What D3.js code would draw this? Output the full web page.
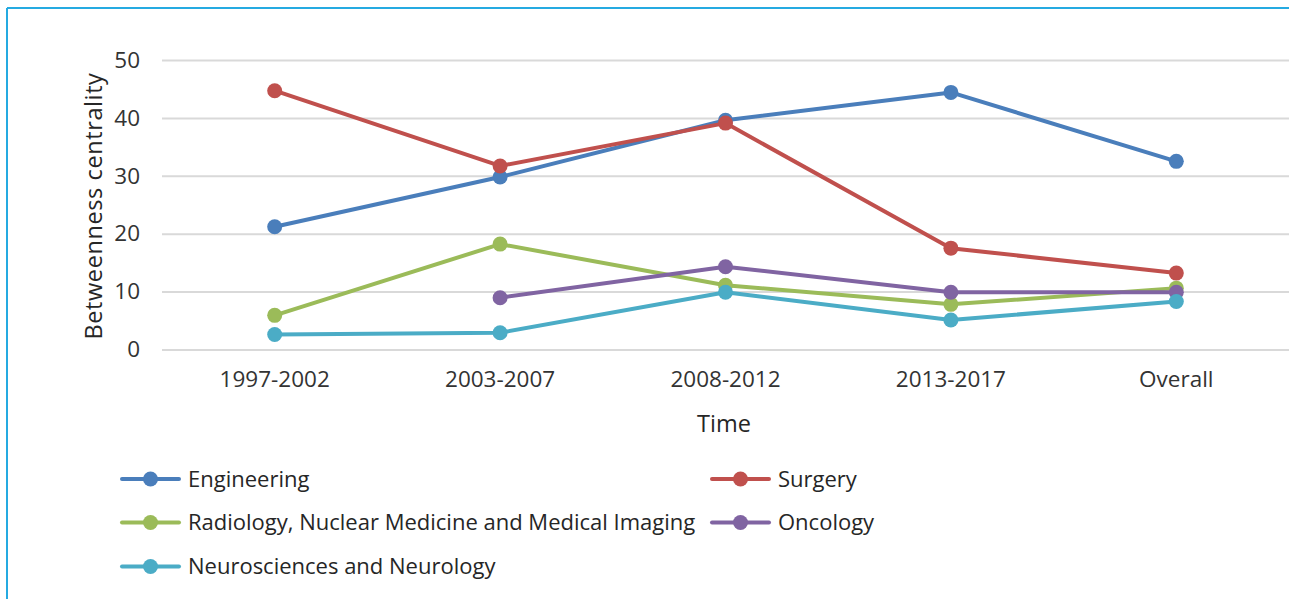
<!DOCTYPE html>
<html>
<head>
<meta charset="utf-8">
<script src="https://cdn.jsdelivr.net/npm/d3@7"></script>
<style>
  body { margin: 0; background: #fff; }
  .chart text { font-family: 'Open Sans', sans-serif; fill: #333; }
  .grid line { stroke: #d9d9d9; stroke-width: 2; }
  .grid path { display: none; }
  .axis path, .axis line { display: none; }
  .line { fill: none; stroke-width: 4; stroke-linejoin: round; stroke-linecap: round; }
</style>
</head>
<body>
<div id="chart"></div>
<script>
// categories and series
const periods = ['1997-2002', '2003-2007', '2008-2012', '2013-2017', 'Overall'];
const engineering = [21.2, 29.8, 39.6, 44.4, 32.5];
const surgery = [44.7, 31.7, 39.1, 17.5, 13.2];
const radiology = [5.9, 18.2, 11.1, 7.8, 10.6];
const oncology = [null, 8.95, 14.3, 9.9, 9.9];
const neuro = [2.6, 2.9, 9.9, 5.1, 8.3];
const yTicks = [0, 10, 20, 30, 40, 50];

const seriesNames = [
  'Engineering', 'Surgery', 'Radiology, Nuclear Medicine and Medical Imaging',
  'Oncology', 'Neurosciences and Neurology'
];
const seriesValues = [engineering, surgery, radiology, oncology, neuro];
const colors = ['#4a7ebb', '#c0504d', '#9bbb59', '#8064a2', '#4bacc6'];

const series = seriesNames.map((name, i) => ({
  name,
  color: colors[i],
  values: periods.map((p, j) => ({ period: p, value: seriesValues[i][j] }))
}));

function drawChart() {
  const width = 1289, height = 599;

  const svg = d3.select('#chart')
    .append('svg')
    .attr('class', 'chart')
    .attr('width', width)
    .attr('height', height);

  // frame edges (top and left visible in the picture)
  svg.append('line').attr('x1', 7).attr('x2', width).attr('y1', 8).attr('y2', 8)
    .attr('stroke', '#25aae1').attr('stroke-width', 2);
  svg.append('line').attr('x1', 7).attr('x2', 7).attr('y1', 8).attr('y2', height)
    .attr('stroke', '#25aae1').attr('stroke-width', 2);

  const plot = { left: 162, right: 1289, top: 60, bottom: 349.5 };

  const xScale = d3.scaleBand().domain(periods).range([plot.left, plot.right]);
  const xc = (p) => xScale(p) + xScale.bandwidth() / 2;
  const yScale = d3.scaleLinear().domain([0, 50]).range([plot.bottom, plot.top]);

  // horizontal gridlines
  svg.append('g')
    .attr('class', 'grid')
    .attr('transform', `translate(${plot.left},0)`)
    .call(d3.axisLeft(yScale).tickValues(yTicks).tickSize(-(plot.right - plot.left)).tickFormat(''));

  // y axis labels
  svg.append('g')
    .attr('class', 'axis')
    .attr('transform', `translate(${plot.left},0)`)
    .call(d3.axisLeft(yScale).tickValues(yTicks).tickSize(0).tickPadding(22))
    .selectAll('text')
    .style('font-size', '22.5px');

  // x axis labels
  svg.append('g')
    .attr('class', 'axis')
    .attr('transform', `translate(0,${plot.bottom})`)
    .call(d3.axisBottom(xScale).tickSize(0).tickPadding(22))
    .selectAll('text')
    .style('font-size', '22.5px');

  svg.selectAll('.axis .domain').remove();

  // axis titles
  svg.append('text')
    .attr('x', 724).attr('y', 432)
    .attr('text-anchor', 'middle')
    .style('font-size', '23.5px')
    .style('fill', '#262626')
    .text('Time');

  svg.append('text')
    .attr('transform', 'translate(102,206) rotate(-90)')
    .attr('text-anchor', 'middle')
    .style('font-size', '23.5px')
    .style('letter-spacing', '0.6px')
    .style('fill', '#262626')
    .text('Betweenness centrality');

  // lines and markers
  const line = d3.line()
    .defined((d) => d.value !== null)
    .x((d) => xc(d.period))
    .y((d) => yScale(d.value));

  series.forEach((s) => {
    const g = svg.append('g');
    g.append('path').datum(s.values).attr('class', 'line').attr('stroke', s.color).attr('d', line);
    g.selectAll('circle')
      .data(s.values.filter((d) => d.value !== null))
      .join('circle')
      .attr('cx', (d) => xc(d.period))
      .attr('cy', (d) => yScale(d.value))
      .attr('r', 7.5)
      .attr('fill', s.color);
  });

  // legend: two columns, three rows
  const legendCols = [122, 712];
  const legendRows = [479, 522.5, 566.5];
  const legend = svg.append('g');
  series.forEach((s, i) => {
    const lx = legendCols[i % 2];
    const ly = legendRows[Math.floor(i / 2)];
    const item = legend.append('g').attr('transform', `translate(${lx},${ly})`);
    item.append('line').attr('x1', 0).attr('x2', 57).attr('y1', 0).attr('y2', 0)
      .attr('stroke', s.color).attr('stroke-width', 4).attr('stroke-linecap', 'round');
    item.append('circle').attr('cx', 28.5).attr('cy', 0).attr('r', 7.5).attr('fill', s.color);
    item.append('text').attr('x', 66).attr('y', 0).attr('dy', '0.35em')
      .style('font-size', '22px')
      .style('fill', '#262626')
      .text(s.name);
  });
}

drawChart();
</script>
</body>
</html>
